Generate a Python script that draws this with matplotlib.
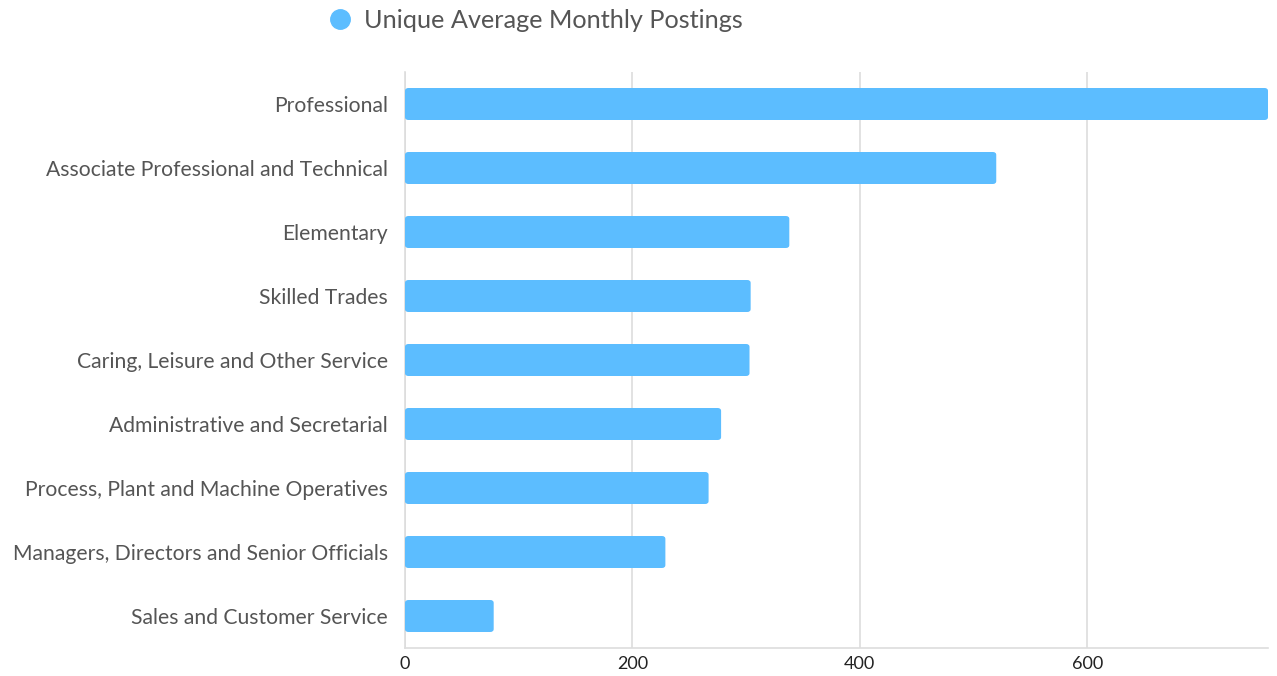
import matplotlib
matplotlib.use("Agg")
import matplotlib.pyplot as plt
from matplotlib.lines import Line2D
from matplotlib.patches import FancyBboxPatch

categories = ["Professional", "Associate Professional and Technical", "Elementary",
              "Skilled Trades", "Caring, Leisure and Other Service",
              "Administrative and Secretarial", "Process, Plant and Machine Operatives",
              "Managers, Directors and Senior Officials", "Sales and Customer Service"]
values = [759, 520, 338, 304, 303, 278, 267, 229, 78]
xticks = [0, 200, 400, 600]
series_name = "Unique Average Monthly Postings"

plt.rcParams['font.family'] = ['Lato', 'DejaVu Sans']
color = "#5CBDFF"

fig = plt.figure(figsize=(12.77, 6.76), dpi=100)
ax = fig.add_axes([405/1277, 28/676, (1268-405)/1277, (648-72)/676])

ypos = list(range(len(categories)))
bars = ax.barh(ypos, values, height=0.5, color=color, zorder=3)
# rounded corners
for b in bars:
    b.set_visible(False)
    x0, y0 = b.get_x(), b.get_y()
    w, h = b.get_width(), b.get_height()
    p = FancyBboxPatch((x0, y0), w, h,
                       boxstyle="round,pad=0,rounding_size=3",
                       mutation_aspect=0.5/32, fc=color, ec="none", zorder=3)
    ax.add_patch(p)

ax.set_ylim(len(categories) - 0.5, -0.5)
ax.set_xlim(0, 759)
ax.set_yticks(ypos)
ax.set_yticklabels(categories, fontsize=15.2, color="#555555")
ax.set_xticks(xticks)
ax.set_xticklabels([str(t) for t in xticks], fontsize=13, color="#222222")
ax.tick_params(axis='both', length=0)
ax.tick_params(axis='y', pad=12.5)
ax.tick_params(axis='x', pad=6)
ax.grid(axis='x', color="#DDDDDD", linewidth=1.2, zorder=0)
for s in ["top", "right"]:
    ax.spines[s].set_visible(False)
ax.spines["left"].set_color("#DDDDDD")
ax.spines["bottom"].set_color("#DDDDDD")
ax.spines["left"].set_linewidth(1.2)
ax.spines["bottom"].set_linewidth(1.2)

# legend
fig.add_artist(Line2D([340/1277], [1 - 19/676], marker='o', markersize=14,
                      color=color, linestyle='none', transform=fig.transFigure))
fig.text(364/1277, 1 - 20/676, series_name, fontsize=18.2, color="#555555",
         va='center', ha='left')

fig.savefig("out.png", dpi=100)
